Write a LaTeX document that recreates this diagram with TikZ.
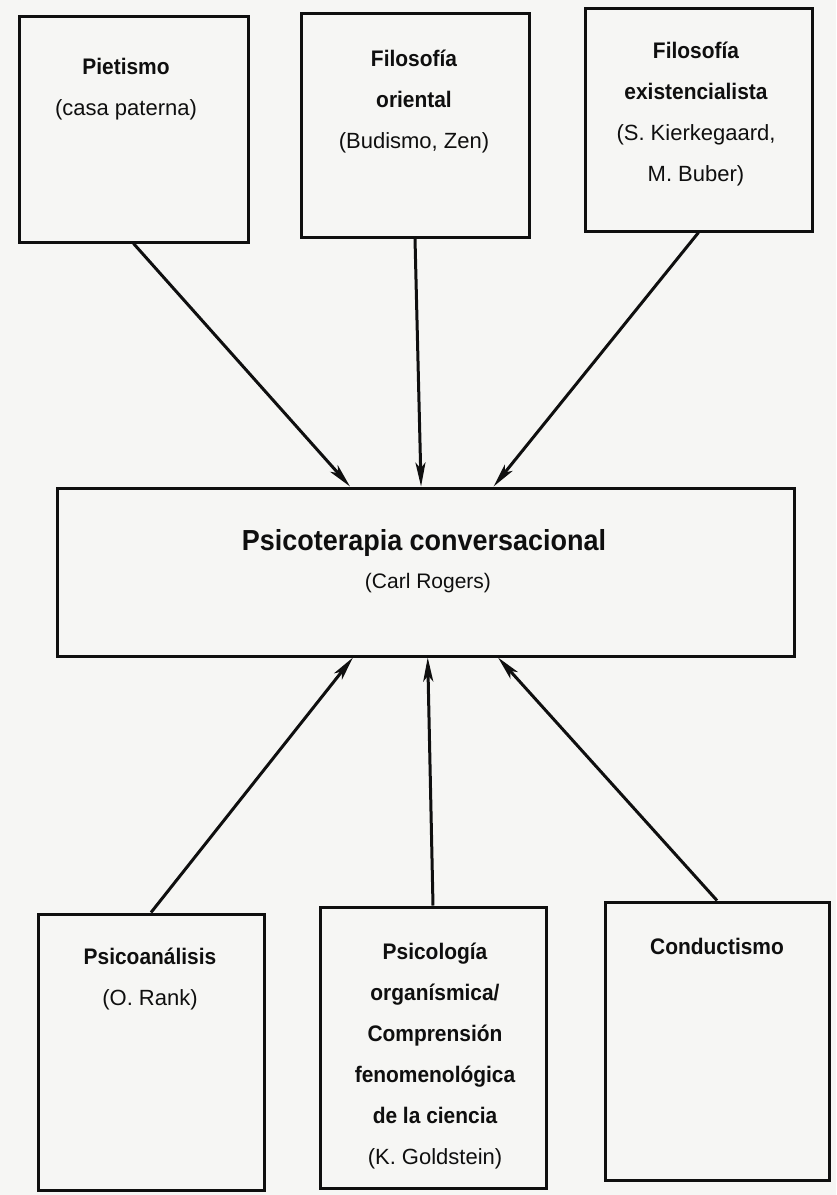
\documentclass[tikz,border=0pt]{standalone}
\usepackage{fontspec}
\setmainfont{Liberation Sans}[BoldFeatures={FakeStretch=0.93}]
\usetikzlibrary{arrows.meta,calc}
\definecolor{paper}{RGB}{246,246,244}
\definecolor{ink}{RGB}{15,15,15}
\tikzset{
  box/.style={draw=ink, line width=3pt, inner sep=0pt},
  lab/.style={align=center, inner sep=0pt, anchor=north, text=ink, font=\fontsize{22.5}{41}\selectfont},
  arr/.style={draw=ink, line width=3pt, -{Stealth[length=24pt,width=10pt,inset=6pt]}}
}
\newcommand{\rg}[1]{{\mdseries\fontsize{22}{41}\selectfont #1}}
\begin{document}
\begin{tikzpicture}[x=1pt,y=-1pt]
\fill[paper] (0,0) rectangle (836,1195);
\useasboundingbox (0,0) rectangle (836,1195);
% boxes
\node[box, minimum width=229pt, minimum height=226pt] (pie) at (133.5,129) {};
\node[box, minimum width=228pt, minimum height=224pt] (ori) at (415,125) {};
\node[box, minimum width=227pt, minimum height=223pt] (exi) at (698.5,119.5) {};
\node[box, minimum width=737pt, minimum height=168pt] (psi) at (425.5,572) {};
\node[box, minimum width=226pt, minimum height=276pt] (pan) at (151,1052) {};
\node[box, minimum width=226pt, minimum height=281pt] (org) at (433,1047.5) {};
\node[box, minimum width=224pt, minimum height=278pt] (con) at (717,1041) {};
% labels
\node[lab] (piet) at (126,58) {{\bfseries Pietismo}\\\rg{(casa paterna)}};
\node[lab] (orit) at (414,50) {{\bfseries Filosofía}\\{\bfseries oriental}\\\rg{(Budismo, Zen)}};
\node[lab] (exit) at (696,42) {{\bfseries Filosofía}\\{\bfseries existencialista}\\\rg{(S. Kierkegaard,}\\\rg{M. Buber)}};
\node[lab, font=\bfseries\fontsize{29}{41}\selectfont] (psit) at (424,529) {Psicoterapia conversacional};
\node[lab, font=\fontsize{21}{41}\selectfont] (psis) at (428,573) {(Carl Rogers)};
\node[lab] (pant) at (150,948) {{\bfseries Psicoanálisis}\\\rg{(O. Rank)}};
\node[lab] (orgt) at (435,943) {{\bfseries Psicología}\\{\bfseries organísmica/}\\{\bfseries Comprensión}\\{\bfseries fenomenológica}\\{\bfseries de la ciencia}\\\rg{(K. Goldstein)}};
\node[lab] (cont) at (717,938) {{\bfseries Conductismo}};
% connectors
\draw[arr] (pie.south) -- ($(psi.north west)!0.398!(psi.north east)$);
\draw[arr] (ori.south) -- ($(psi.north west)!0.494!(psi.north east)$);
\draw[arr] (exi.south) -- ($(psi.north west)!0.592!(psi.north east)$);
\draw[arr] (pan.north) -- ($(psi.south west)!0.402!(psi.south east)$);
\draw[arr] (org.north) -- ($(psi.south west)!0.503!(psi.south east)$);
\draw[arr] (con.north) -- ($(psi.south west)!0.598!(psi.south east)$);
\end{tikzpicture}
\end{document}
